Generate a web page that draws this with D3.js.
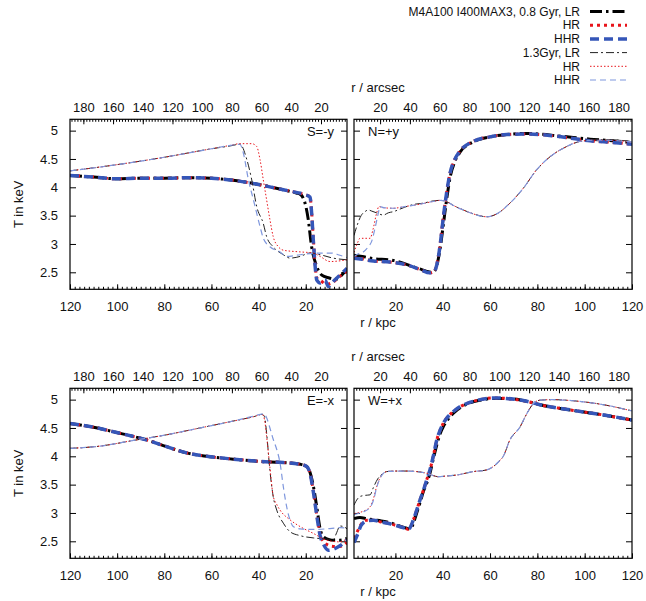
<!DOCTYPE html>
<html><head><meta charset="utf-8">
<script src="https://cdn.jsdelivr.net/npm/d3@7"></script>
<style>
body{margin:0;background:#fff}
text{font-family:"Liberation Sans",Arial,Helvetica,sans-serif;fill:#111}
</style>
</head><body><svg id="c" width="646" height="601"></svg>
<script>
// ---------------- DATA ----------------
const kpcTicks = [20, 40, 60, 80, 100, 120];
const arcsecTicks = [20, 40, 60, 80, 100, 120, 140, 160, 180];
const tempTicks = [2.5, 3, 3.5, 4, 4.5, 5];
const legendLabels = ["M4A100 I400MAX3, 0.8 Gyr, LR", "HR", "HHR", "1.3Gyr, LR", "HR", "HHR"];
const panelLabels = ["S=-y", "N=+y", "E=-x", "W=+x"];

// S = -y  (top left)   [r in kpc, T in keV]
const S_08LR  = [[120,4.21],[110,4.18],[100,4.15],[90,4.16],[80,4.16],[70,4.17],[60,4.16],[50,4.12],[40,4.05],[30,3.96],[24,3.90],[22.4,3.88],[20.3,3.72],[19,3.45],[17.5,2.95],[15.3,2.60],[13.2,2.45],[10,2.40],[8.3,2.38],[6.9,2.38],[4.5,2.46],[2.5,2.56]];
const S_08HR  = [[120,4.21],[110,4.18],[100,4.15],[90,4.16],[80,4.16],[70,4.17],[60,4.16],[50,4.12],[40,4.05],[30,3.96],[24,3.91],[20.3,3.87],[18.2,3.83],[17.5,3.56],[16.8,3.10],[16.0,2.62],[15.3,2.40],[13.9,2.36],[11.1,2.29],[8.3,2.33],[5.5,2.43],[2.5,2.52]];
const S_08HHR = [[120,4.21],[110,4.18],[100,4.15],[90,4.16],[80,4.16],[70,4.17],[60,4.16],[50,4.12],[40,4.05],[30,3.96],[24,3.91],[20.3,3.87],[18.2,3.83],[17.5,3.54],[16.8,3.07],[16.0,2.60],[15.3,2.36],[13.9,2.31],[11.8,2.36],[10.4,2.25],[8.3,2.34],[5.5,2.45],[2.5,2.57]];
const S_13LR  = [[120,4.29],[100,4.40],[80,4.53],[60,4.68],[52,4.73],[47.9,4.76],[45.0,4.49],[42.9,4.13],[40.8,3.66],[38.0,3.36],[36.6,3.13],[33.8,2.95],[29.5,2.81],[26.7,2.75],[22.4,2.78],[18.2,2.84],[13.9,2.81],[8.3,2.75],[2.5,2.72]];
const S_13HR  = [[120,4.29],[100,4.40],[80,4.53],[60,4.68],[52,4.74],[47.9,4.77],[42.9,4.77],[40.8,4.72],[39.4,4.49],[38.0,4.13],[36.6,3.78],[35.2,3.43],[33.8,3.13],[31.6,2.95],[29.5,2.89],[22.4,2.86],[16.8,2.84],[13.9,2.78],[9.7,2.69],[2.5,2.72]];
const S_13HHR = [[120,4.29],[100,4.40],[80,4.53],[60,4.68],[52,4.74],[47.9,4.76],[46.5,4.61],[44.3,4.13],[42.2,3.78],[39.4,3.31],[38.0,3.10],[35.2,2.95],[30.9,2.86],[28.1,2.78],[22.4,2.81],[13.9,2.84],[9.0,2.84],[5.5,2.80],[2.5,2.76]];

// N = +y  (top right)
const N_08LR  = [[2.5,2.80],[6,2.78],[10.7,2.74],[17.7,2.72],[22,2.68],[26,2.62],[30.4,2.56],[33,2.52],[35,2.50],[36.5,2.52],[37.5,2.62],[38.9,2.92],[40.2,3.32],[41.7,3.80],[43.1,4.17],[45.2,4.46],[47.3,4.62],[52.9,4.80],[60,4.89],[67,4.93],[74.1,4.95],[81.1,4.94],[88.2,4.91],[95.2,4.88],[102.3,4.85],[109.3,4.83],[120,4.79]];
const N_08HR  = [[2.5,2.76],[6,2.74],[10.7,2.70],[17.7,2.68],[24.8,2.63],[30.4,2.55],[34.6,2.49],[36.5,2.52],[37.5,2.64],[38.9,3.00],[40.2,3.46],[41.7,3.92],[43.1,4.25],[45.2,4.50],[47.3,4.64],[52.9,4.81],[60,4.89],[67,4.93],[74.1,4.94],[81.1,4.93],[88.2,4.90],[95.2,4.86],[102.3,4.82],[109.3,4.80],[120,4.76]];
const N_08HHR = [[2.5,2.75],[6,2.73],[10.7,2.70],[17.7,2.68],[24.8,2.63],[30.4,2.55],[34.6,2.49],[36.5,2.52],[37.5,2.63],[38.9,2.98],[40.2,3.45],[41.7,3.92],[43.1,4.25],[45.2,4.50],[47.3,4.64],[52.9,4.81],[60,4.89],[67,4.93],[74.1,4.94],[81.1,4.93],[88.2,4.90],[95.2,4.86],[102.3,4.82],[109.3,4.80],[120,4.76]];
const N_13LR  = [[2.5,3.15],[4,3.35],[5.5,3.50],[7.1,3.57],[8.5,3.60],[10,3.58],[12,3.55],[14.9,3.51],[17,3.55],[19.1,3.57],[24,3.65],[28,3.70],[31.8,3.72],[36,3.76],[39,3.77],[42,3.74],[44.5,3.68],[48.7,3.60],[53,3.53],[58.6,3.48],[62.8,3.53],[68.4,3.72],[74,3.98],[79.7,4.31],[85.4,4.54],[92.4,4.72],[98,4.81],[103.7,4.84],[109.3,4.84],[120,4.81]];
const N_13HR  = [[2.5,2.85],[4,3.02],[5,3.10],[7,3.10],[9.3,3.10],[10.5,3.25],[12.1,3.55],[13,3.66],[15,3.64],[19,3.63],[24,3.66],[30,3.70],[36,3.75],[39,3.77],[42,3.74],[44.5,3.68],[48.7,3.60],[53,3.53],[58.6,3.48],[62.8,3.53],[68.4,3.72],[74,3.98],[79.7,4.31],[85.4,4.54],[92.4,4.72],[98,4.81],[103.7,4.83],[109.3,4.83],[120,4.80]];
const N_13HHR = [[2.5,2.78],[4,2.82],[6.4,2.86],[8.5,2.95],[10,3.05],[11.5,3.30],[12.8,3.55],[13.5,3.66],[15,3.64],[19,3.63],[24,3.66],[30,3.70],[36,3.75],[39,3.77],[42,3.74],[44.5,3.68],[48.7,3.60],[53,3.53],[58.6,3.48],[62.8,3.53],[68.4,3.72],[74,3.98],[79.7,4.31],[85.4,4.54],[92.4,4.72],[98,4.81],[103.7,4.83],[109.3,4.83],[120,4.80]];

// E = -x  (bottom left)
const E_08LR  = [[120,4.58],[107.3,4.49],[100.2,4.42],[93.1,4.35],[87.5,4.29],[79,4.17],[70.5,4.06],[62,4.00],[50.7,3.95],[39.4,3.91],[29.5,3.89],[22.4,3.86],[19.6,3.82],[18.2,3.72],[16.8,3.48],[15.3,3.10],[13.9,2.72],[12.5,2.58],[10,2.53],[8,2.52],[5.5,2.52],[2.5,2.55]];
const E_08HR  = [[120,4.58],[107.3,4.49],[100.2,4.42],[93.1,4.35],[87.5,4.29],[79,4.17],[70.5,4.06],[62,4.00],[50.7,3.95],[39.4,3.91],[29.5,3.89],[22.4,3.86],[19.6,3.82],[18.2,3.70],[16.8,3.40],[15.3,2.97],[13.9,2.62],[12.5,2.50],[10.4,2.43],[8.3,2.41],[5.5,2.41],[2.5,2.48]];
const E_08HHR = [[120,4.58],[107.3,4.49],[100.2,4.42],[93.1,4.35],[87.5,4.29],[79,4.17],[70.5,4.06],[62,4.00],[50.7,3.95],[39.4,3.91],[29.5,3.89],[22.4,3.86],[19.6,3.82],[18.2,3.70],[16.8,3.38],[15.3,2.95],[13.9,2.60],[12.5,2.45],[10.4,2.34],[8.3,2.36],[5.5,2.42],[2.5,2.52]];
const E_13LR  = [[120,4.14],[107.3,4.18],[93.1,4.28],[79,4.38],[66,4.49],[51,4.62],[42,4.70],[38.5,4.74],[37.5,4.70],[36.6,4.41],[35.2,3.75],[33.8,3.29],[32.3,3.05],[29.5,2.82],[26.7,2.67],[22.4,2.60],[16.8,2.56],[11.1,2.54],[8.3,2.53],[6.9,2.65],[5.5,2.77],[4,2.76],[2.5,2.72]];
const E_13HR  = [[120,4.14],[107.3,4.18],[93.1,4.28],[79,4.38],[66,4.49],[51,4.62],[42,4.70],[38.5,4.74],[37.5,4.65],[36.6,4.35],[35.2,3.80],[33.8,3.30],[32.3,3.15],[30.9,3.05],[26.7,2.88],[22.4,2.76],[16.8,2.64],[11.1,2.52],[5.5,2.49],[2.5,2.55]];
const E_13HHR = [[120,4.14],[107.3,4.18],[93.1,4.28],[79,4.38],[66,4.49],[51,4.62],[42,4.71],[38.0,4.75],[36.6,4.68],[35.2,4.50],[33.8,4.30],[32.3,4.12],[30.9,3.88],[29.5,3.46],[28.1,3.11],[26.7,2.88],[25.3,2.76],[22.4,2.72],[16.8,2.71],[11.1,2.72],[5.5,2.74],[2.5,2.73]];

// W = +x  (bottom right)
const W_08LR  = [[2.5,2.90],[5,2.92],[7.9,2.90],[10.7,2.88],[14,2.86],[17.7,2.83],[21,2.78],[24.8,2.73],[26.5,2.72],[27.6,2.82],[29,3.00],[30.4,3.18],[32,3.40],[33.2,3.52],[34.6,3.70],[36,3.95],[37.5,4.20],[38.9,4.40],[40.2,4.52],[42,4.64],[44.5,4.76],[47.5,4.86],[50.1,4.92],[55.8,4.99],[61.4,5.02],[67,5.02],[75.5,4.97],[81.1,4.91],[95.2,4.81],[109.3,4.72],[120,4.64]];
const W_08HR  = [[2.5,2.55],[4,2.68],[5.5,2.80],[7.9,2.87],[10.7,2.87],[14,2.84],[17.7,2.81],[21,2.77],[24.8,2.72],[25.5,2.71],[27.6,2.88],[29,3.05],[30.4,3.23],[32,3.42],[33.2,3.58],[34.6,3.76],[36,4.00],[37.5,4.29],[38.9,4.46],[40.2,4.58],[42,4.69],[44.5,4.79],[47.5,4.88],[50.1,4.93],[55.8,5.00],[61.4,5.03],[67,5.02],[75.5,4.97],[81.1,4.91],[95.2,4.81],[109.3,4.72],[120,4.64]];
const W_08HHR = [[2.5,2.48],[4,2.62],[5.5,2.78],[7.9,2.86],[10.7,2.87],[14,2.84],[17.7,2.81],[21,2.77],[24.8,2.72],[25.5,2.71],[27.6,2.88],[29,3.05],[30.4,3.23],[32,3.42],[33.2,3.58],[34.6,3.76],[36,4.00],[37.5,4.29],[38.9,4.46],[40.2,4.58],[42,4.69],[44.5,4.79],[47.5,4.88],[50.1,4.93],[55.8,5.00],[61.4,5.03],[67,5.02],[75.5,4.97],[81.1,4.91],[95.2,4.81],[109.3,4.72],[120,4.64]];
const W_13LR  = [[2.5,3.14],[4,3.25],[5,3.29],[7,3.31],[9.3,3.32],[10.7,3.45],[12.5,3.60],[14.9,3.70],[16.3,3.73],[20,3.74],[25,3.74],[29,3.73],[33.2,3.70],[36,3.66],[38,3.64],[41,3.65],[45.9,3.67],[52.9,3.73],[58.6,3.76],[61.4,3.82],[63.5,3.90],[65.6,4.00],[68.4,4.29],[72.7,4.52],[75.5,4.75],[78.3,4.93],[81.1,4.99],[86.7,5.00],[95.2,4.98],[109.3,4.90],[120,4.80]];
const W_13HR  = [[2.5,2.99],[5,3.01],[6.4,3.03],[9.3,3.11],[10.7,3.25],[12.1,3.47],[13.5,3.62],[14.9,3.70],[16.3,3.73],[20,3.74],[25,3.74],[29,3.73],[33.2,3.70],[36,3.66],[38,3.64],[41,3.65],[45.9,3.67],[52.9,3.73],[58.6,3.76],[61.4,3.82],[63.5,3.90],[65.6,4.00],[68.4,4.29],[72.7,4.52],[75.5,4.75],[78.3,4.93],[81.1,4.99],[86.7,5.00],[95.2,4.98],[109.3,4.90],[120,4.80]];
const W_13HHR = [[2.5,2.97],[5,3.00],[6.4,3.02],[9.3,3.10],[10.7,3.22],[12.1,3.45],[13.5,3.61],[14.9,3.70],[16.3,3.73],[20,3.74],[25,3.74],[29,3.73],[33.2,3.70],[36,3.66],[38,3.64],[41,3.65],[45.9,3.67],[52.9,3.73],[58.6,3.76],[61.4,3.82],[63.5,3.90],[65.6,4.00],[68.4,4.29],[72.7,4.52],[75.5,4.75],[78.3,4.93],[81.1,4.99],[86.7,5.00],[95.2,4.98],[109.3,4.90],[120,4.80]];

// ---------------- STYLE / LAYOUT ----------------
const styles = [
  {stroke:"#000000", w:3.0, dash:"12,4,2.5,4"},
  {stroke:"#e8141b", w:3.0, dash:"3,4"},
  {stroke:"#3556b8", w:3.5, dash:"9,5"},
  {stroke:"#222222", w:1.0, dash:"8,3,2,3"},
  {stroke:"#e8141b", w:1.0, dash:"1.5,2"},
  {stroke:"#7f97dd", w:1.2, dash:"6,4"}
];
const panels = [
  {left:true,  x0:70,  y0:119.3, w:277, label:panelLabels[0], series:[S_08LR,S_08HR,S_08HHR,S_13LR,S_13HR,S_13HHR]},
  {left:false, x0:354, y0:119.3, w:278, label:panelLabels[1], series:[N_08LR,N_08HR,N_08HHR,N_13LR,N_13HR,N_13HHR]},
  {left:true,  x0:70,  y0:388.3, w:277, label:panelLabels[2], series:[E_08LR,E_08HR,E_08HHR,E_13LR,E_13HR,E_13HHR]},
  {left:false, x0:354, y0:388.3, w:278, label:panelLabels[3], series:[W_08LR,W_08HR,W_08HHR,W_13LR,W_13HR,W_13HHR]}
];
const PH = 170;
const FS = 13;

const svg = d3.select("#c");

panels.forEach((p, pi) => {
  const kpcDom = p.left ? [120, 2.5] : [2.5, 120];
  const asDom  = p.left ? [189, 2.5] : [2.5, 189];
  const x  = d3.scaleLinear().domain(kpcDom).range([p.x0, p.x0 + p.w]);
  const x2 = d3.scaleLinear().domain(asDom).range([p.x0, p.x0 + p.w]);
  const y  = d3.scaleLinear().domain([2.2, 5.2]).range([p.y0 + PH, p.y0]);
  const g = svg.append("g");

  const clipId = "clip" + pi;
  svg.append("clipPath").attr("id", clipId).append("rect")
    .attr("x", p.x0).attr("y", p.y0).attr("width", p.w).attr("height", PH);

  const styleAxis = sel => {
    sel.select(".domain").remove();
    sel.selectAll("line").attr("stroke", "#000").attr("stroke-width", 1);
    sel.selectAll("text").style("font-size", FS + "px").attr("fill", "#111");
  };
  // bottom kpc
  g.append("g").attr("transform", `translate(0,${p.y0 + PH})`)
    .call(d3.axisBottom(x).tickValues(d3.range(4, 121, 2)).tickSize(-2.5).tickFormat(""))
    .call(styleAxis);
  g.append("g").attr("transform", `translate(0,${p.y0 + PH})`)
    .call(d3.axisBottom(x).tickValues(kpcTicks).tickSize(-5).tickPadding(12).tickFormat(d3.format("d")))
    .call(styleAxis);
  // top arcsec
  g.append("g").attr("transform", `translate(0,${p.y0})`)
    .call(d3.axisTop(x2).tickValues(d3.range(4, 189, 2)).tickSize(-2.5).tickFormat(""))
    .call(styleAxis);
  g.append("g").attr("transform", `translate(0,${p.y0})`)
    .call(d3.axisTop(x2).tickValues(arcsecTicks).tickSize(-5).tickPadding(7).tickFormat(d3.format("d")))
    .call(styleAxis);
  // y axes
  g.append("g").attr("transform", `translate(${p.x0},0)`)
    .call(d3.axisLeft(y).tickValues(tempTicks).tickSize(-6).tickPadding(12)
      .tickFormat(p.left ? d3.format("") : ""))
    .call(styleAxis);
  g.append("g").attr("transform", `translate(${p.x0 + p.w},0)`)
    .call(d3.axisRight(y).tickValues(tempTicks).tickSize(-6).tickFormat(""))
    .call(styleAxis);

  // curves
  const line = d3.line().x(d => x(d[0])).y(d => y(d[1])).curve(d3.curveMonotoneX);
  const lg = g.append("g").attr("clip-path", `url(#${clipId})`);
  p.series.forEach((s, si) => {
    const st = styles[si];
    const pts = s.slice().sort((a, b) => x(a[0]) - x(b[0]));
    lg.append("path").datum(pts).attr("d", line)
      .attr("fill", "none").attr("stroke", st.stroke).attr("stroke-width", st.w)
      .attr("stroke-dasharray", st.dash).attr("stroke-linejoin", "round");
  });

  // frame
  g.append("rect").attr("x", p.x0).attr("y", p.y0).attr("width", p.w).attr("height", PH)
    .attr("fill", "none").attr("stroke", "#000").attr("stroke-width", 1.2);

  // panel label
  g.append("text")
    .attr("x", p.left ? p.x0 + p.w - 13 : p.x0 + 14)
    .attr("y", p.y0 + 17)
    .attr("text-anchor", p.left ? "end" : "start")
    .style("font-size", FS + "px").text(p.label);

  if (p.left) {
    g.append("text").attr("transform", `translate(23,${p.y0 + PH / 2}) rotate(-90)`)
      .attr("text-anchor", "middle").style("font-size", FS + "px").text("T in keV");
  } else {
    g.append("text").attr("x", 378).attr("y", p.y0 - 27).attr("text-anchor", "middle")
      .style("font-size", FS + "px").text("r / arcsec");
    g.append("text").attr("x", 378).attr("y", p.y0 + PH + 38).attr("text-anchor", "middle")
      .style("font-size", FS + "px").text("r / kpc");
  }
});

// legend
const lgd = svg.append("g");
legendLabels.forEach((lab, i) => {
  const yy = 11.5 + i * 13.7;
  lgd.append("text").attr("x", 580).attr("y", yy).attr("dy", "0.35em")
    .attr("text-anchor", "end").style("font-size", "12px").text(lab);
  const st = styles[i];
  lgd.append("line").attr("x1", 590).attr("x2", 627).attr("y1", yy).attr("y2", yy)
    .attr("stroke", st.stroke).attr("stroke-width", st.w).attr("stroke-dasharray", st.dash);
});
</script>
</body></html>
